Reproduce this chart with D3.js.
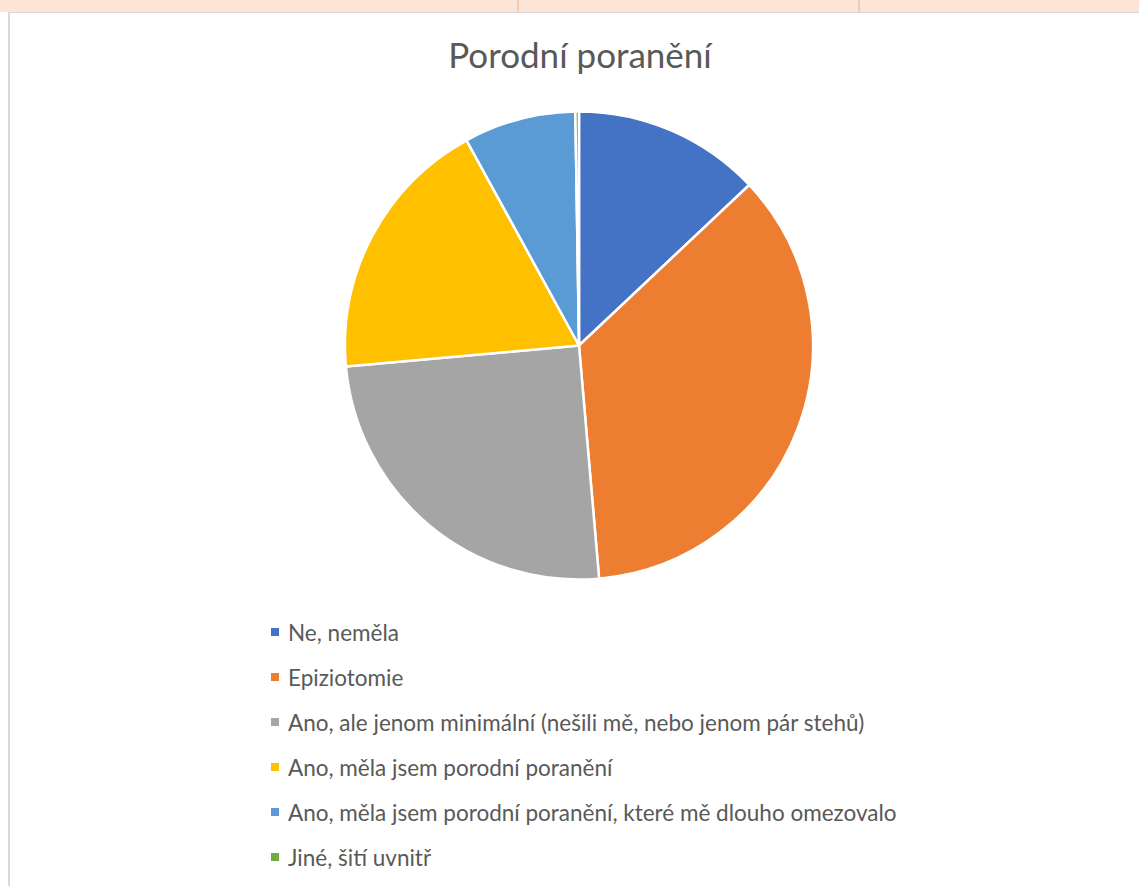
<!DOCTYPE html>
<html>
<head>
<meta charset="utf-8">
<script src="https://cdn.jsdelivr.net/npm/d3@7"></script>
<style>
  body { margin: 0; background: #fff; }
</style>
</head>
<body>
<div class="chart"></div>
<script>
const width = 1139;
const height = 886;

const categories = [
  "Ne, neměla",
  "Epiziotomie",
  "Ano, ale jenom minimální (nešili mě, nebo jenom pár stehů)",
  "Ano, měla jsem porodní poranění",
  "Ano, měla jsem porodní poranění, které mě dlouho omezovalo",
  "Jiné, šití uvnitř",
];
const counts = [52, 143, 100, 74, 31, 1];
const colors = ["#4472C4", "#ED7D31", "#A5A5A5", "#FFC000", "#5B9BD5", "#70AD47"];

const data = categories.map((c, i) => ({ name: c, value: counts[i], color: colors[i] }));

const svg = d3
  .select(".chart")
  .append("svg")
  .attr("width", width)
  .attr("height", height);

// spreadsheet strip at the top
svg.append("rect").attr("x", 0).attr("y", 0).attr("width", width).attr("height", 12).attr("fill", "#FCE4D6");
[518, 859].forEach((x) => {
  svg.append("line").attr("x1", x).attr("x2", x).attr("y1", 0).attr("y2", 12)
    .attr("stroke", "#F4B084").attr("stroke-width", 1);
});
svg.append("line").attr("x1", 9).attr("x2", width).attr("y1", 12.5).attr("y2", 12.5)
  .attr("stroke", "#D9D9D9").attr("stroke-width", 1);
svg.append("line").attr("x1", 9).attr("x2", 9).attr("y1", 12).attr("y2", height)
  .attr("stroke", "#D9D9D9").attr("stroke-width", 2);

// title
svg.append("text")
  .attr("x", 580)
  .attr("y", 68)
  .attr("text-anchor", "middle")
  .attr("font-family", "Lato, 'Open Sans', sans-serif")
  .attr("font-size", 35)
  .attr("fill", "#595959")
  .text("Porodní poranění");

// pie
const cx = 579, cy = 345.5, radius = 234;

const pie = d3.pie().sort(null).value((d) => d.value);
const arc = d3.arc().innerRadius(0).outerRadius(radius);

svg.append("g")
  .attr("transform", `translate(${cx},${cy})`)
  .selectAll("path")
  .data(pie(data))
  .enter()
  .append("path")
  .attr("d", arc)
  .attr("fill", (d) => d.data.color)
  .attr("stroke", "#fff")
  .attr("stroke-width", 2.5)
  .attr("stroke-linejoin", "round");

// legend
const legend = svg.append("g").attr("transform", "translate(271,633)");
const rowH = 45;

const rows = legend.selectAll("g")
  .data(data)
  .enter()
  .append("g")
  .attr("transform", (d, i) => `translate(0,${i * rowH})`);

rows.append("rect")
  .attr("x", 0)
  .attr("y", -5)
  .attr("width", 8)
  .attr("height", 8)
  .attr("fill", (d) => d.color);

rows.append("text")
  .attr("x", 17)
  .attr("y", 8)
  .attr("font-family", "Lato, 'Open Sans', sans-serif")
  .attr("font-size", 22.5)
  .attr("fill", "#595959")
  .text((d) => d.name);
</script>
</body>
</html>
